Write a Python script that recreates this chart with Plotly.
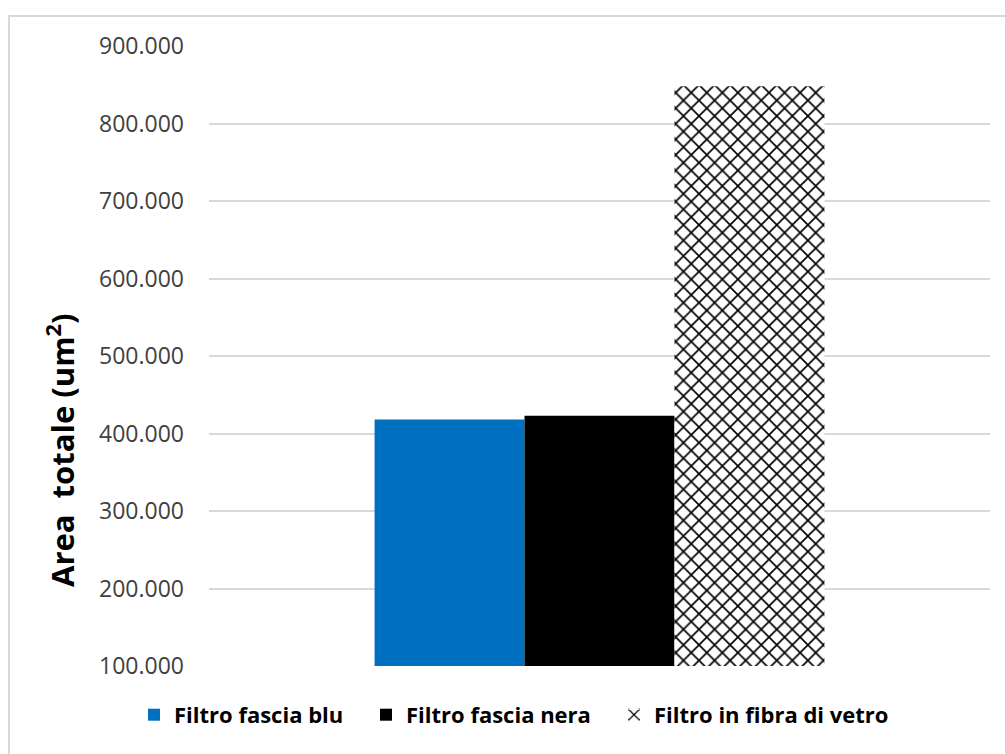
import plotly.graph_objects as go

categories = ["Campione"]
series_names = ["Filtro fascia blu", "Filtro fascia nera", "Filtro in fibra di vetro"]
series_values = [[418000], [423000], [848000]]
series_colors = ["#0070C0", "#000000", "#FFFFFF"]
y_ticks = [100000, 200000, 300000, 400000, 500000, 600000, 700000, 800000, 900000]
y_title = "Area  totale (um<sup>2</sup>)"

FONT = "Open Sans, Lato, sans-serif"
legend_ids = ["legend", "legend2", "legend3"]
legend_left_px = [134, 366, 614]

fig = go.Figure()
for i, (name, vals, col) in enumerate(zip(series_names, series_values, series_colors)):
    marker = dict(color=col, line=dict(width=0))
    if i == 2:
        marker = dict(color="white", line=dict(width=0),
                      pattern=dict(shape="x", size=11, solidity=0.28,
                                   fgcolor="black", bgcolor="white", fillmode="replace"))
    fig.add_trace(go.Bar(x=categories, y=vals, name=name, marker=marker,
                         legend=legend_ids[i], showlegend=True))

legend_common = dict(orientation="h", xanchor="left", y=-0.045, yanchor="top",
                     font=dict(size=22, color="#000000", family=FONT, weight="bold"),
                     itemwidth=30, bgcolor="rgba(0,0,0,0)")

fig.update_layout(
    width=1005, height=754,
    margin=dict(l=209, r=15, t=46, b=88),
    paper_bgcolor="white", plot_bgcolor="white",
    barmode="group", bargap=0.424, bargroupgap=0,
    separators=",.",
    font=dict(family=FONT, color="#404040"),
    showlegend=True,
    legend=dict(x=(legend_left_px[0] - 209) / 781, **legend_common),
    legend2=dict(x=(legend_left_px[1] - 209) / 781, **legend_common),
    legend3=dict(x=(legend_left_px[2] - 209) / 781, **legend_common),
    xaxis=dict(showticklabels=False, showgrid=False, zeroline=False, showline=False,
               range=[-0.5, 0.5]),
    yaxis=dict(range=[100000, 900000], tickvals=y_ticks, tickformat=",d",
               showgrid=True, gridcolor="#D9D9D9", gridwidth=1.5, zeroline=False,
               showline=False, ticks="", ticklabelstandoff=24,
               tickfont=dict(size=23, color="#404040")),
    annotations=[
        dict(text=y_title, xref="paper", yref="paper",
             x=(60 - 209) / 781, y=(666 - 450) / 620, xanchor="center", yanchor="middle",
             textangle=-90, showarrow=False,
             font=dict(size=31, color="#000000", family=FONT, weight="bold")),
    ],
    shapes=[
        dict(type="rect", xref="paper", yref="paper",
             x0=(9 - 209) / 781, x1=1.2, y0=-0.3, y1=1 + 30 / 620,
             line=dict(color="#D9D9D9", width=2), fillcolor="rgba(0,0,0,0)", layer="below"),
    ],
)

fig.write_html("out.html")
